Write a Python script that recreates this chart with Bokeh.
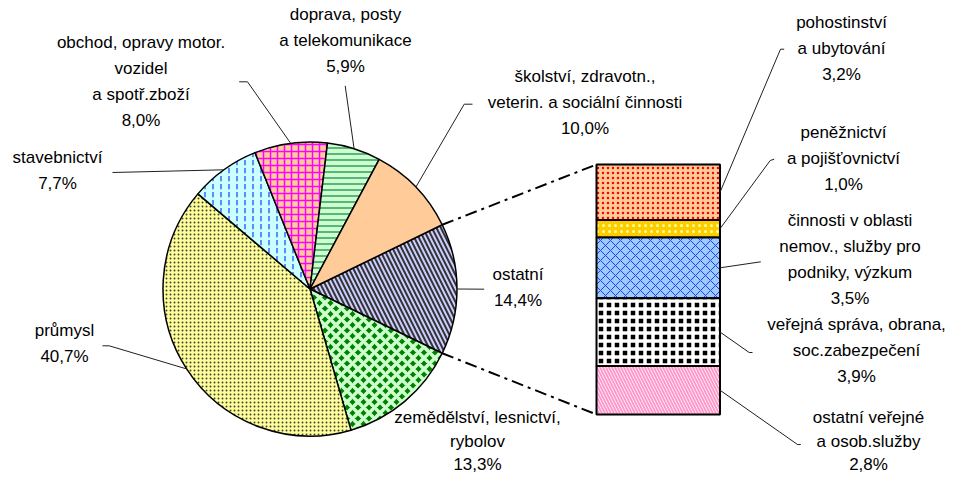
import math
from bokeh.plotting import figure
from bokeh.models import ColumnDataSource, Range1d
from bokeh.core.properties import value
from bokeh.embed import file_html
from bokeh.resources import INLINE

# ---------------- data ----------------
pie_categories = [
    "ostatní",
    "zemědělství, lesnictví,\nrybolov",
    "průmysl",
    "stavebnictví",
    "obchod, opravy motor.\nvozidel\na spotř.zboží",
    "doprava, posty\na telekomunikace",
    "školství, zdravotn.,\nveterin. a sociální činnosti",
]
pie_values = [14.4, 13.3, 40.7, 7.7, 8.0, 5.9, 10.0]

bar_categories = [
    "pohostinství\na ubytování",
    "peněžnictví\na pojišťovnictví",
    "činnosti v oblasti\nnemov., služby pro\npodniky, výzkum",
    "veřejná správa, obrana,\nsoc.zabezpečení",
    "ostatní veřejné\na osob.služby",
]
bar_values = [3.2, 1.0, 3.5, 3.9, 2.8]

# ---------------- styles / layout ----------------
W, H = 949, 473
PAGE_H = 489
def Y(py):
    return PAGE_H - py

pie_fill = ["#CCCCFF", "#008000", "#FFFF99", "#CCFFFF", "#FFCC99", "#CCFFCC", "#FFCC99"]
pie_hatch = ["\\", "x", ".", ":", "+", "-", " "]
pie_hatch_color = ["#333333", "#CCFFCC", "#404040", "#3366FF", "#FF00FF", "#339966", "#000000"]
pie_hatch_scale = [9, 11, 4, 8, 7, 6, 6]
pie_hatch_weight = [2, 3.5, 1, 1.5, 1.5, 1.5, 1]

bar_fill = ["#FFCC99", "#FFCC00", "#99CCFF", "#000000", "#FFFFFF"]
bar_hatch = [".", ".", "x", "+", "\\"]
bar_hatch_color = ["#FF0000", "#FFFF99", "#3333FF", "#FFFFFF", "#FF99CC"]
bar_hatch_scale = [5, 6, 10, 8, 6]
bar_hatch_weight = [3, 2, 1, 3.5, 2]

CX, CY, R = 317.5, Y(296.5), 147.0
BAR_L, BAR_R, BAR_TOP, BAR_BOT = 604.0, 727.5, Y(172), Y(422)
LINE_GAP = 25.9

# label anchors (center x, first-line y in page px, line gap)
pie_label_pos = [(525.5, 281.7, LINE_GAP), (485, 425, 23.5), (72, 338, LINE_GAP),
                 (65, 165, LINE_GAP), (148.5, 50, LINE_GAP), (353, 21.7, LINE_GAP),
                 (592.5, 84, LINE_GAP)]
bar_label_pos = [(849, 30, LINE_GAP), (851, 140, LINE_GAP), (857.5, 228.3, LINE_GAP),
                 (864, 332, LINE_GAP), (876, 425, 23.5)]

# leader elbows (page px), None = no leader
pie_leader = [[(491.7, 296.7)], None, [(110, 353.3), (116.7, 353.3)], [(120, 180)],
              [(246.7, 89.3), (255, 89.3)], [(352.7, 93.3)], [(480, 111.7), (471.7, 111.7)]]
bar_leader = [[(791.7, 56.7), (788, 56.7)], [(781.7, 166.7), (777.7, 168)], [(768.3, 269.3)],
              [(760, 360), (756.7, 360)], [(808.3, 452), (805, 452)]]

def pct(v):
    return ("%.1f" % v).replace(".", ",") + "%"

# ---------------- figure ----------------
p = figure(width=W, height=H, output_backend="svg", toolbar_location=None,
           x_range=Range1d(8, 8 + W), y_range=Range1d(PAGE_H - 8 - H, PAGE_H - 8),
           min_border=0, x_axis_location=None, y_axis_location=None)
p.grid.visible = False
p.outline_line_color = None
p.background_fill_color = "white"

# pie wedges (clockwise, "ostatní" centered at 3 o'clock)
total = sum(pie_values)
a0 = math.pi * pie_values[0] / total
starts, ends, mids = [], [], []
cum = 0.0
for v in pie_values:
    s = a0 - 2 * math.pi * cum / total
    e = s - 2 * math.pi * v / total
    starts.append(s); ends.append(e); mids.append((s + e) / 2)
    cum += v

pie_src = ColumnDataSource(dict(x=[CX] * len(pie_values), y=[CY] * len(pie_values),
                                start=starts, end=ends, fill=pie_fill, hatch=pie_hatch,
                                hcol=pie_hatch_color, hscale=pie_hatch_scale, hw=pie_hatch_weight))
p.wedge(x="x", y="y", radius=R, start_angle="start", end_angle="end", direction="clock",
        source=pie_src, fill_color="fill", hatch_pattern="hatch", hatch_color="hcol",
        hatch_scale="hscale", hatch_weight="hw", line_color="black", line_width=1.5)

# stacked bar of "ostatní"
bsum = sum(bar_values)
unit = (BAR_TOP - BAR_BOT) / bsum
tops, bots = [], []
c = 0.0
for v in bar_values:
    tops.append(BAR_TOP - c * unit)
    bots.append(BAR_TOP - (c + v) * unit)
    c += v
bar_src = ColumnDataSource(dict(x=[(BAR_L + BAR_R) / 2] * len(bar_values), top=tops, bottom=bots,
                                fill=bar_fill, hatch=bar_hatch, hcol=bar_hatch_color,
                                hscale=bar_hatch_scale, hw=bar_hatch_weight))
p.vbar(x="x", width=BAR_R - BAR_L, top="top", bottom="bottom", source=bar_src,
       fill_color="fill", hatch_pattern="hatch", hatch_color="hcol", hatch_scale="hscale",
       hatch_weight="hw", line_color="black", line_width=2)

# connector dash-dot lines
p.line([CX + R * math.cos(a0), BAR_L], [CY + R * math.sin(a0), BAR_TOP],
       line_color="black", line_width=2, line_dash="12 5 3 5")
p.line([CX + R * math.cos(-a0), BAR_L], [CY + R * math.sin(-a0), BAR_BOT],
       line_color="black", line_width=2, line_dash="12 5 3 5")

# leaders
lx, ly = [], []
for m, pts in zip(mids, pie_leader):
    if pts is None:
        continue
    xs = [q[0] for q in pts] + [CX + R * math.cos(m)]
    ys = [Y(q[1]) for q in pts] + [CY + R * math.sin(m)]
    lx.append(xs); ly.append(ys)
for t, b, pts in zip(tops, bots, bar_leader):
    xs = [q[0] for q in pts] + [BAR_R]
    ys = [Y(q[1]) for q in pts] + [(t + b) / 2]
    lx.append(xs); ly.append(ys)
p.multi_line(lx, ly, line_color="#202020", line_width=1)

# labels
tx, ty, tt = [], [], []
for name, v, (x0, y0, gap) in list(zip(pie_categories, pie_values, pie_label_pos)) + \
        list(zip(bar_categories, bar_values, bar_label_pos)):
    lines = name.split("\n") + [pct(v)]
    for j, ln in enumerate(lines):
        tx.append(x0); ty.append(Y(y0 + j * gap)); tt.append(ln)
p.text(x=tx, y=ty, text=tt, text_align="center", text_baseline="middle",
       text_font=value("Liberation Sans"), text_font_size="17px", text_color="black")

open("out.html", "w").write(file_html(p, INLINE))
